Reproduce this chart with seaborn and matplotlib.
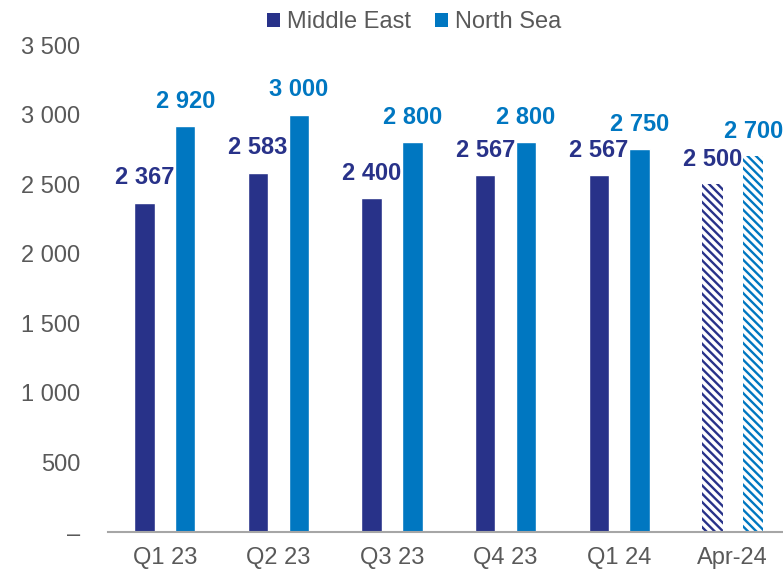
import matplotlib
matplotlib.use("Agg")
import matplotlib.pyplot as plt
from matplotlib.patches import Patch
import seaborn as sns
import pandas as pd

periods = ["Q1 23", "Q2 23", "Q3 23", "Q4 23", "Q1 24", "Apr-24"]
middle_east = [2367, 2583, 2400, 2567, 2567, 2500]
north_sea = [2920, 3000, 2800, 2800, 2750, 2700]
regions = ["Middle East", "North Sea"]
y_ticks = [0, 500, 1000, 1500, 2000, 2500, 3000, 3500]

colors = ["#283289", "#0077C1"]
grey = "#595959"

df = pd.DataFrame({
    "period": periods * 2,
    "value": middle_east + north_sea,
    "region": [regions[0]] * len(periods) + [regions[1]] * len(periods),
})

sns.set_theme(style="white")
plt.rcParams["font.family"] = ["Liberation Sans", "DejaVu Sans"]
plt.rcParams["hatch.linewidth"] = 1.7

fig = plt.figure(figsize=(7.83, 5.69), dpi=100)
# plot area runs slightly past the right edge of the figure
slot = 113.6
ax = fig.add_axes([108 / 783, 1 - 532 / 569, 6 * slot / 783, (532 - 45) / 569])

sns.barplot(data=df, x="period", y="value", hue="region", order=periods,
            hue_order=regions, palette=colors, width=0.72, gap=0.5,
            saturation=1, legend=False, ax=ax)

def fmt_num(v):
    return f"{v:,.0f}".replace(",", " ")

# latest month is an estimate: draw it hatched
last_idx = len(periods) - 1
for container, col in zip(ax.containers, colors):
    for bar in container:
        cx = bar.get_x() + bar.get_width() / 2
        if cx > last_idx - 0.5:
            bar.set_facecolor("white")
            bar.set_edgecolor(col)
            bar.set_hatch("\\\\\\\\")
            bar.set_linewidth(0)
    labels = ax.bar_label(container, labels=[fmt_num(v) for v in container.datavalues],
                          padding=9.5, fontsize=17, fontweight="bold", color=col)
    for t in labels:
        t.set_clip_on(False)

ax.set_ylim(0, 3500)
ax.set_xlim(-0.5, len(periods) - 0.5)
ax.set_yticks(y_ticks)
ax.set_yticklabels(["–" if v == 0 else fmt_num(v) for v in y_ticks])
ax.tick_params(axis="y", length=0, pad=20, labelsize=17, labelcolor=grey)
ax.tick_params(axis="x", length=0, pad=11, labelsize=17, labelcolor=grey)
ax.set_xlabel("")
ax.set_ylabel("")
for side in ["top", "right", "left"]:
    ax.spines[side].set_visible(False)
ax.spines["bottom"].set_color("#A6A6A6")
ax.spines["bottom"].set_linewidth(1.5)

handles = [Patch(facecolor=c, edgecolor="none") for c in colors]
fig.legend(handles, regions, loc="center", bbox_to_anchor=(414 / 783, 1 - 22 / 569),
           ncol=2, frameon=False, fontsize=17, labelcolor=grey,
           handlelength=0.55, handleheight=0.55, handletextpad=0.3,
           columnspacing=1.0, borderpad=0)

fig.savefig("out.png", dpi=100)
